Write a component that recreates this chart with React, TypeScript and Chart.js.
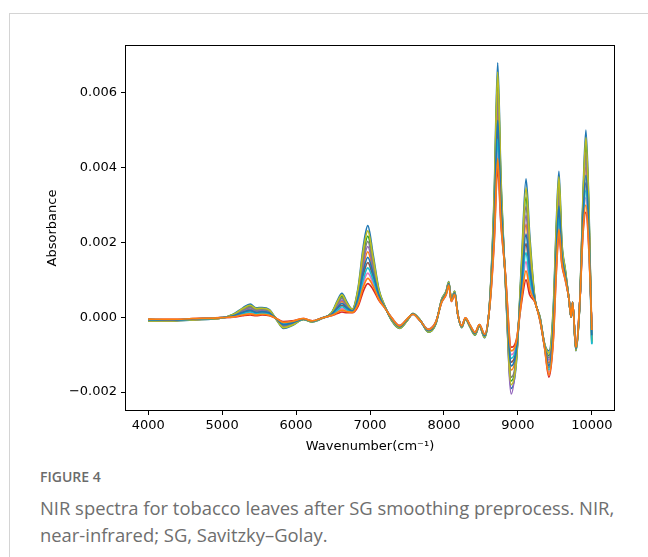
import React, { useEffect, useRef } from "react";
import { Chart, registerables } from "chart.js";

Chart.register(...registerables);

// Wavenumber sample positions (cm^-1)
const wavenumbers = [
  4000, 4300, 4600, 5000, 5150, 5280, 5380, 5460, 5540, 5640,
  5740, 5830, 5950, 6100, 6220, 6350, 6480, 6560, 6620, 6690,
  6760, 6840, 6910, 6970, 7040, 7120, 7200, 7290, 7400, 7500,
  7580, 7680, 7790, 7890, 7970, 8030, 8065, 8100, 8145, 8190,
  8240, 8290, 8350, 8420, 8480, 8550, 8620, 8680, 8727, 8770,
  8830, 8910, 8980, 9050, 9110, 9160, 9230, 9300, 9360, 9420,
  9480, 9520, 9555, 9595, 9640, 9690, 9720, 9740, 9785, 9840,
  9880, 9920, 9960, 10000,
];

// Absorbance of each spectrum, in units of 1e-5
const spectrum01 = [
  -10, -10, -7, -2, 8, 25, 35, 25, 26, 20,
  -8, -30, -22, -6, -12, -3, 12, 45, 64, 40,
  22, 80, 190, 245, 170, 75, 30, -8, -30, -10,
  10, -8, -40, -18, 48, 70, 95, 48, 70, 5,
  -28, -5, -25, -48, -24, -55, 45, 330, 680, 380,
  100, -190, -120, 150, 370, 220, 50, 0, -70, -90,
  30, 250, 390, 200, 130, 50, 0, 40, -90, 50,
  320, 500, 300, -70,
];
const spectrum02 = [
  -8, -8, -6, -2, 4, 16, 22, 16, 17, 13,
  -6, -22, -17, -5, -11, -3, 8, 29, 42, 27,
  18, 58, 136, 175, 127, 62, 28, -4, -26, -8,
  9, -9, -36, -15, 44, 66, 91, 45, 66, 5,
  -25, -4, -23, -44, -22, -51, 38, 272, 554, 322,
  109, -141, -93, 101, 249, 148, 46, -5, -75, -122,
  -11, 192, 314, 173, 117, 50, 0, 40, -86, 50,
  275, 401, 246, -52,
];
const spectrum03 = [
  -9, -9, -6, -2, 7, 21, 30, 21, 22, 17,
  -7, -27, -20, -6, -12, -3, 11, 39, 55, 35,
  20, 71, 168, 217, 153, 70, 29, -7, -29, -9,
  10, -8, -39, -17, 47, 68, 93, 47, 68, 5,
  -27, -4, -24, -47, -23, -53, 42, 307, 630, 357,
  104, -170, -109, 130, 321, 191, 48, -2, -72, -103,
  14, 227, 359, 189, 125, 50, 0, 40, -88, 50,
  302, 460, 278, -63,
];
const spectrum04 = [
  -5, -6, -4, -1, 0, 4, 6, 4, 6, 4,
  -4, -12, -10, -4, -10, -2, 4, 10, 14, 12,
  12, 30, 70, 90, 75, 45, 25, 0, -22, -5,
  8, -10, -32, -12, 40, 60, 85, 42, 60, 5,
  -22, -2, -20, -40, -20, -45, 30, 200, 400, 250,
  120, -80, -60, 40, 100, 60, 40, -10, -80, -160,
  -60, 120, 220, 140, 100, 50, 0, 40, -80, 50,
  220, 280, 180, -30,
];
const spectrum05 = [
  -8, -9, -6, -2, 5, 17, 25, 17, 19, 14,
  -7, -24, -18, -5, -11, -3, 9, 32, 46, 30,
  18, 62, 147, 189, 136, 64, 28, -5, -27, -8,
  9, -9, -37, -16, 45, 66, 91, 46, 66, 5,
  -26, -4, -23, -45, -23, -51, 40, 283, 579, 333,
  107, -205, -110, 110, 273, 162, 46, -4, -74, -115,
  -2, 203, 329, 178, 119, 50, 0, 40, -86, 50,
  284, 421, 257, -56,
];
const spectrum06 = [
  -7, -7, -5, -1, 3, 12, 16, 12, 13, 10,
  -5, -18, -14, -5, -11, -2, 7, 23, 32, 22,
  16, 48, 113, 146, 109, 56, 27, -3, -25, -7,
  9, -9, -35, -14, 43, 64, 89, 44, 64, 5,
  -24, -3, -22, -43, -21, -49, 35, 247, 501, 297,
  113, -120, -82, 80, 197, 118, 44, -6, -76, -135,
  -28, 167, 281, 162, 111, 50, 0, 40, -84, 50,
  256, 359, 223, -30,
];
const spectrum07 = [
  -7, -7, -5, -1, 1, 8, 11, 8, 10, 7,
  -5, -15, -12, -4, -10, -2, 5, 16, 23, 17,
  14, 39, 92, 118, 92, 50, 26, -1, -23, -6,
  8, -10, -33, -13, 41, 62, 87, 43, 62, 5,
  -23, -3, -21, -41, -21, -47, 33, 223, 450, 273,
  116, -100, -71, 60, 149, 89, 42, -8, -78, -147,
  -44, 143, 251, 151, 105, 50, 0, 40, -82, 50,
  238, 320, 202, -37,
];
const spectrum08 = [
  -9, -9, -6, -2, 6, 19, 27, 19, 21, 16,
  -7, -25, -19, -5, -11, -3, 10, 36, 51, 32,
  19, 67, 158, 203, 144, 67, 29, -6, -28, -9,
  9, -9, -38, -16, 46, 67, 92, 46, 67, 5,
  -26, -4, -24, -46, -23, -52, 41, 295, 604, 345,
  105, -160, -104, 120, 297, 177, 47, -3, -73, -109,
  6, 215, 344, 184, 122, 50, 0, 40, -87, 50,
  293, 441, 268, -59,
];
const spectrum09 = [
  -10, -10, -7, -2, 7, 23, 32, 23, 24, 19,
  -8, -28, -21, -6, -12, -3, 11, 42, 60, 37,
  21, 76, 179, 231, 161, 72, 30, -7, -29, -10,
  10, -8, -39, -17, 47, 69, 94, 47, 69, 5,
  -27, -5, -25, -47, -24, -54, 44, 318, 655, 368,
  102, -180, -115, 140, 346, 206, 49, -1, -71, -96,
  22, 238, 375, 195, 127, 50, 0, 40, -89, 50,
  311, 480, 289, -66,
];
const spectrum10 = [
  -6, -7, -5, -1, 2, 10, 14, 10, 11, 8,
  -5, -17, -13, -5, -11, -2, 6, 19, 28, 20,
  15, 44, 102, 132, 101, 53, 26, -2, -24, -6,
  8, -10, -34, -14, 42, 63, 88, 44, 63, 5,
  -24, -3, -21, -42, -21, -48, 34, 235, 476, 285,
  115, -110, -76, 70, 173, 103, 43, -7, -77, -141,
  -36, 155, 266, 156, 108, 50, 0, 40, -83, 50,
  247, 339, 212, -72,
];
const spectrum11 = [
  -7, -8, -5, -1, 4, 13, 19, 13, 15, 11,
  -6, -20, -15, -5, -11, -2, 8, 26, 37, 25,
  17, 53, 124, 160, 118, 59, 27, -4, -26, -7,
  9, -9, -36, -15, 44, 65, 90, 45, 65, 5,
  -25, -3, -22, -44, -22, -50, 37, 259, 526, 309,
  111, -130, -87, 90, 222, 132, 45, -6, -76, -129,
  -20, 179, 297, 167, 114, 50, 0, 40, -85, 50,
  265, 379, 234, -48,
];
const spectrum12 = [
  -5, -6, -4, -1, 1, 6, 9, 6, 8, 5,
  -4, -14, -11, -4, -10, -2, 5, 13, 19, 15,
  13, 35, 81, 104, 84, 48, 25, -1, -23, -5,
  8, -10, -33, -13, 41, 61, 86, 43, 61, 5,
  -23, -2, -20, -41, -20, -46, 31, 212, 425, 262,
  118, -90, -65, 50, 124, 74, 41, -9, -79, -154,
  -52, 132, 235, 145, 103, 50, 0, 40, -81, 50,
  229, 300, 191, -34,
];

const spectra = [
  spectrum01, spectrum02, spectrum03, spectrum04, spectrum05, spectrum06,
  spectrum07, spectrum08, spectrum09, spectrum10, spectrum11, spectrum12,
];
const ABSORBANCE_UNIT = 1e-5;

const seriesColors = [
  "#1f77b4", "#ff7f0e", "#2ca02c", "#d62728", "#9467bd", "#8c564b",
  "#e377c2", "#7f7f7f", "#bcbd22", "#17becf", "#1f77b4", "#ff7f0e",
];

const xTickValues = [4000, 5000, 6000, 7000, 8000, 9000, 10000];
const yTickValues = [-0.002, 0, 0.002, 0.004, 0.006];
const xAxisMin = 3700;
const xAxisMax = 10300;
const yAxisMin = -0.00248;
const yAxisMax = 0.00725;

const xTitle = "Wavenumber(cm\u207B\u00B9)";
const yTitle = "Absorbance";
const figureLabel = "FIGURE 4";
const captionLine1 = "NIR spectra for tobacco leaves after SG smoothing preprocess. NIR,";
const captionLine2 = "near-infrared; SG, Savitzky\u2013Golay.";

const tickFont = { family: "'DejaVu Sans', sans-serif", size: 13 };

const framePlugin = {
  id: "frameBox",
  afterDatasetsDraw(chart: any) {
    const { ctx, chartArea: a } = chart;
    ctx.save();
    ctx.strokeStyle = "#000";
    ctx.lineWidth = 1;
    ctx.strokeRect(a.left - 0.5, a.top - 0.5, a.right - a.left + 1, a.bottom - a.top + 1);
    ctx.restore();
  },
};

export default function App() {
  const canvasRef = useRef<HTMLCanvasElement | null>(null);

  useEffect(() => {
    const canvas = canvasRef.current;
    if (!canvas) return;
    const n = spectra.length;
    const datasets = spectra.map((s, i) => ({
      label: `Sample ${i + 1}`,
      data: s.map((v, j) => ({ x: wavenumbers[j], y: v * ABSORBANCE_UNIT })),
      borderColor: seriesColors[i],
      backgroundColor: seriesColors[i],
      borderWidth: 1.7,
      pointRadius: 0,
      cubicInterpolationMode: "monotone" as const,
      fill: false,
      order: n - 1 - i,
    }));

    const chart = new Chart(canvas, {
      type: "line",
      data: { datasets },
      options: {
        animation: false,
        responsive: false,
        devicePixelRatio: 1,
        events: [],
        layout: { padding: { left: 0, top: 16, right: 14, bottom: 0 } },
        plugins: {
          legend: { display: false },
          tooltip: { enabled: false },
        },
        scales: {
          x: {
            type: "linear",
            min: xAxisMin,
            max: xAxisMax,
            afterBuildTicks: (scale: any) => {
              scale.ticks = xTickValues.map((v) => ({ value: v }));
            },
            afterFit: (scale: any) => {
              scale.height = 44;
            },
            ticks: {
              color: "#000",
              font: tickFont,
              padding: 3,
              maxRotation: 0,
              autoSkip: false,
              callback: (v: any) => String(v),
            },
            grid: {
              display: true,
              drawOnChartArea: false,
              drawTicks: true,
              tickLength: 5,
              tickColor: "#000",
              tickWidth: 1,
            },
            border: { display: false },
            title: {
              display: true,
              text: xTitle,
              color: "#000",
              font: tickFont,
              padding: { top: 0, bottom: 0 },
            },
          },
          y: {
            type: "linear",
            min: yAxisMin,
            max: yAxisMax,
            afterBuildTicks: (scale: any) => {
              scale.ticks = yTickValues.map((v) => ({ value: v }));
            },
            afterFit: (scale: any) => {
              scale.width = 118;
            },
            ticks: {
              color: "#000",
              font: tickFont,
              padding: 4,
              autoSkip: false,
              callback: (v: any) => Number(v).toFixed(3).replace("-", "\u2212"),
            },
            grid: {
              display: true,
              drawOnChartArea: false,
              drawTicks: true,
              tickLength: 5,
              tickColor: "#000",
              tickWidth: 1,
            },
            border: { display: false },
            title: {
              display: true,
              text: yTitle,
              color: "#000",
              font: tickFont,
              padding: { top: 37, bottom: 0 },
            },
          },
        },
      },
      plugins: [framePlugin],
    });
    return () => chart.destroy();
  }, []);

  return (
    <div
      style={{
        position: "fixed",
        left: 0,
        top: 0,
        width: 648,
        height: 557,
        overflow: "hidden",
        background: "#fff",
      }}
    >
      <div
        style={{
          position: "absolute",
          left: 9,
          top: 13,
          width: 700,
          height: 600,
          borderTop: "1px solid #d4d4d4",
          borderLeft: "1px solid #d4d4d4",
        }}
      />
      <canvas
        ref={canvasRef}
        width={620}
        height={424}
        style={{ position: "absolute", left: 8, top: 30, width: 620, height: 424 }}
      />
      <div
        style={{
          position: "absolute",
          left: 40,
          top: 467,
          fontFamily: "'Open Sans', sans-serif",
          fontSize: 14,
          lineHeight: "20px",
          fontWeight: 600,
          color: "#6b6b6b",
          whiteSpace: "nowrap",
        }}
      >
        {figureLabel}
      </div>
      <div
        style={{
          position: "absolute",
          left: 40,
          top: 494,
          fontFamily: "'Open Sans', sans-serif",
          fontSize: 18.4,
          lineHeight: "27px",
          color: "#6e6e6e",
          whiteSpace: "nowrap",
        }}
      >
        {captionLine1}
        <br />
        {captionLine2}
      </div>
    </div>
  );
}
